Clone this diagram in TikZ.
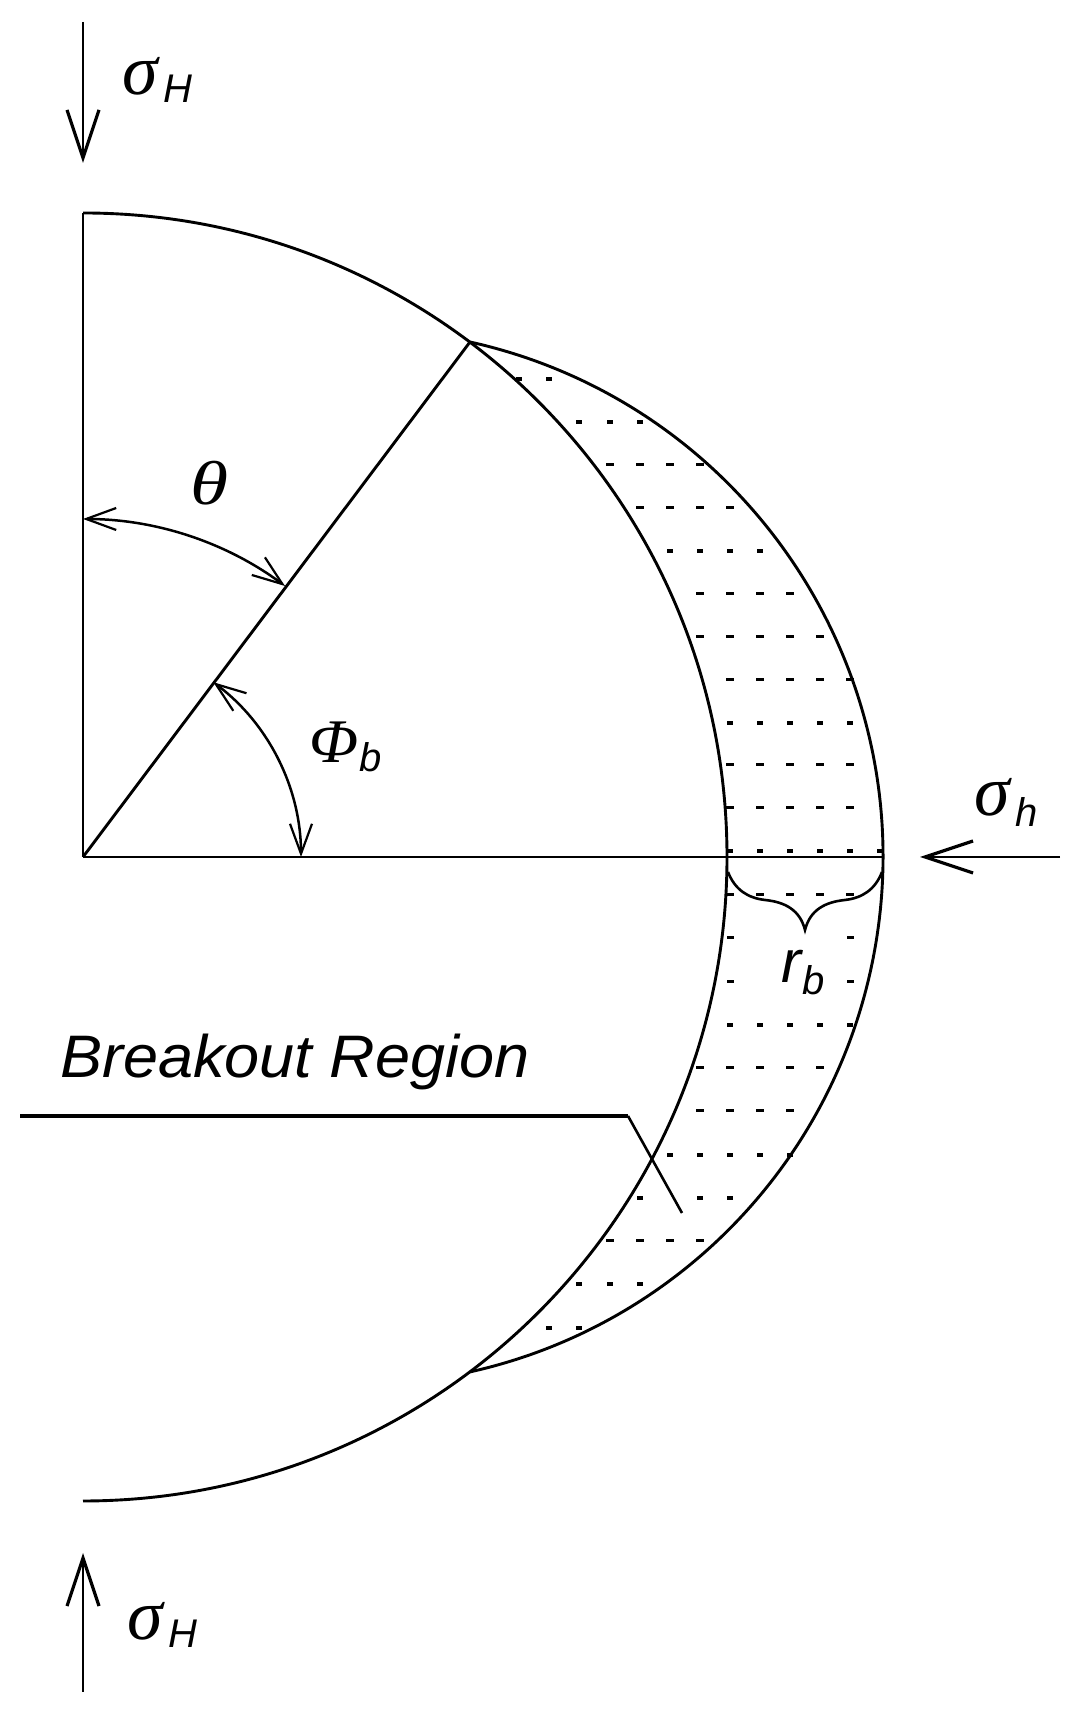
\documentclass[tikz,border=0pt]{standalone}
\usepackage{graphicx}
\usepackage{fontspec}
\setmainfont{Liberation Sans}
\newfontfamily\grk{Liberation Serif}
\usetikzlibrary{arrows.meta}
\tikzset{
  x=1pt,y=1pt,
  main/.style={line width=2.9pt,black},
  thin/.style={line width=2.6pt,black},
  force/.style={line width=2.4pt,black,-{Straight Barb[length=48pt,width=32pt,line width=3.2pt]}},
  angle/.style={line width=2.5pt,black,{Straight Barb[length=30pt,width=22pt,line width=2.2pt]}-{Straight Barb[length=30pt,width=22pt,line width=2.2pt]}},
  lbl/.style={inner sep=0pt,outer sep=0pt,anchor=base west,text=black},
}
\newcommand{\grkm}[2]{\scalebox{#1}[1]{\grk\itshape\fontsize{62}{64}\selectfont #2}}
\newcommand{\sigm}{{\grk\itshape\fontsize{72}{74}\selectfont σ}}
\newcommand{\subm}[1]{{\itshape\fontsize{40}{42}\selectfont #1}}
\begin{document}
\begin{tikzpicture}
\useasboundingbox (0,0) rectangle (1081,1715);
\coordinate (O) at (83,858);
\coordinate (top) at (83,1502);
\coordinate (bot) at (83,214);
\coordinate (P) at (470,1373);
\coordinate (Q) at (470,343);
\coordinate (Rin) at (727,858);
\coordinate (Rout) at (883,858);
% stipple
\foreach \yy/\hh/\ww/\xs in {
 379/4/6/{519,549},
 422/4/6/{579,610,640},
 465/3/8/{610,640,670,700},
 508/3/8/{640,670,700,730},
 551/4/6/{670,700,730,760},
 594/3/8/{700,730,760,790},
 637/3/8/{700,730,760,790,820},
 680/3/8/{730,760,790,820,850},
 723/4/6/{730,760,790,820,850},
 765/3/8/{730,760,790,820,850},
 808/3/8/{730,760,790,820,850},
 851/4/6/{730,760,790,820,850,880},
 895/3/8/{730,760,790,820,850},
 938/3/7/{730,850},
 982/3/7/{730,850},
 1025/4/6/{730,760,790,820,850},
 1068/3/8/{700,730,760,790,820},
 1111/3/8/{700,730,760,790},
 1155/4/6/{670,700,730,760,790},
 1198/4/6/{640,700,730},
 1241/3/8/{610,640,670,700},
 1284/4/6/{579,610,640},
 1328/4/6/{549,579}}{
  \foreach \x in \xs {
    \fill[black] ({\x-\ww/2},{1715-\yy-\hh/2}) rectangle ({\x+\ww/2},{1715-\yy+\hh/2});
  }
}
% borehole
\draw[main] (O) -- (top);
\draw[main] (top) arc[start angle=90,end angle=-90,radius=644];
\draw[main] (P) arc[start angle=77.45,end angle=-77.45,radius=527.6];
\draw[main] (O) -- (P);
\draw[main] (O) -- (Rout);
% angle arcs
\coordinate (tha) at (83,1196);
\coordinate (phb) at (301,858);
\draw[angle] (tha) arc[start angle=90,end angle=53.3,radius=338];
\draw[angle] (phb) arc[start angle=0,end angle=53.3,radius=218];
% forces
\coordinate (f1a) at (83,1693);
\coordinate (f1b) at (83,1552);
\coordinate (f2a) at (83,23);
\coordinate (f2b) at (83,162);
\coordinate (f3a) at (1060,858);
\coordinate (f3b) at (920,858);
\draw[force] (f1a) -- (f1b);
\draw[force] (f2a) -- (f2b);
\draw[force] (f3a) -- (f3b);
% brace
\coordinate (brL) at (728,843);
\coordinate (brR) at (882,843);
\coordinate (brT) at (805,785);
\draw[thin] (brL) .. controls (735,825) and (748,817) .. (765,815)
  .. controls (785,813) and (800,805) .. (brT)
  .. controls (810,805) and (825,813) .. (845,815)
  .. controls (862,817) and (875,825) .. (brR);
% leader
\coordinate (l1) at (20,599);
\coordinate (l2) at (628,599);
\coordinate (l3) at (682,502);
\draw[line width=3.4pt,black] (l1) -- (l2);
\draw[thin] (l2) -- (l3);
% labels
\node[lbl] (s1) at (122,1620) {\sigm};
\node[lbl] (s1s) at (163,1612) {\subm{H}};
\node[lbl] (s2) at (127,75) {\sigm};
\node[lbl] (s2s) at (168,67) {\subm{H}};
\node[lbl] (s3) at (974,899) {\sigm};
\node[lbl] (s3s) at (1015,888) {\subm{h}};
\node[lbl] (th) at (190,1210) {\grkm{1.25}{θ}};
\node[lbl] (ph) at (309,952) {\grkm{1.04}{Φ}};
\node[lbl] (phs) at (359,943) {\subm{b}};
\node[lbl] (rr) at (781,732) {{\itshape\fontsize{60}{62}\selectfont r}};
\node[lbl] (rs) at (802,720) {\subm{b}};
\node[lbl] (br) at (60,637) {\scalebox{1.05}[1]{\itshape\fontsize{60}{62}\selectfont Breakout Region}};
\end{tikzpicture}
\end{document}
